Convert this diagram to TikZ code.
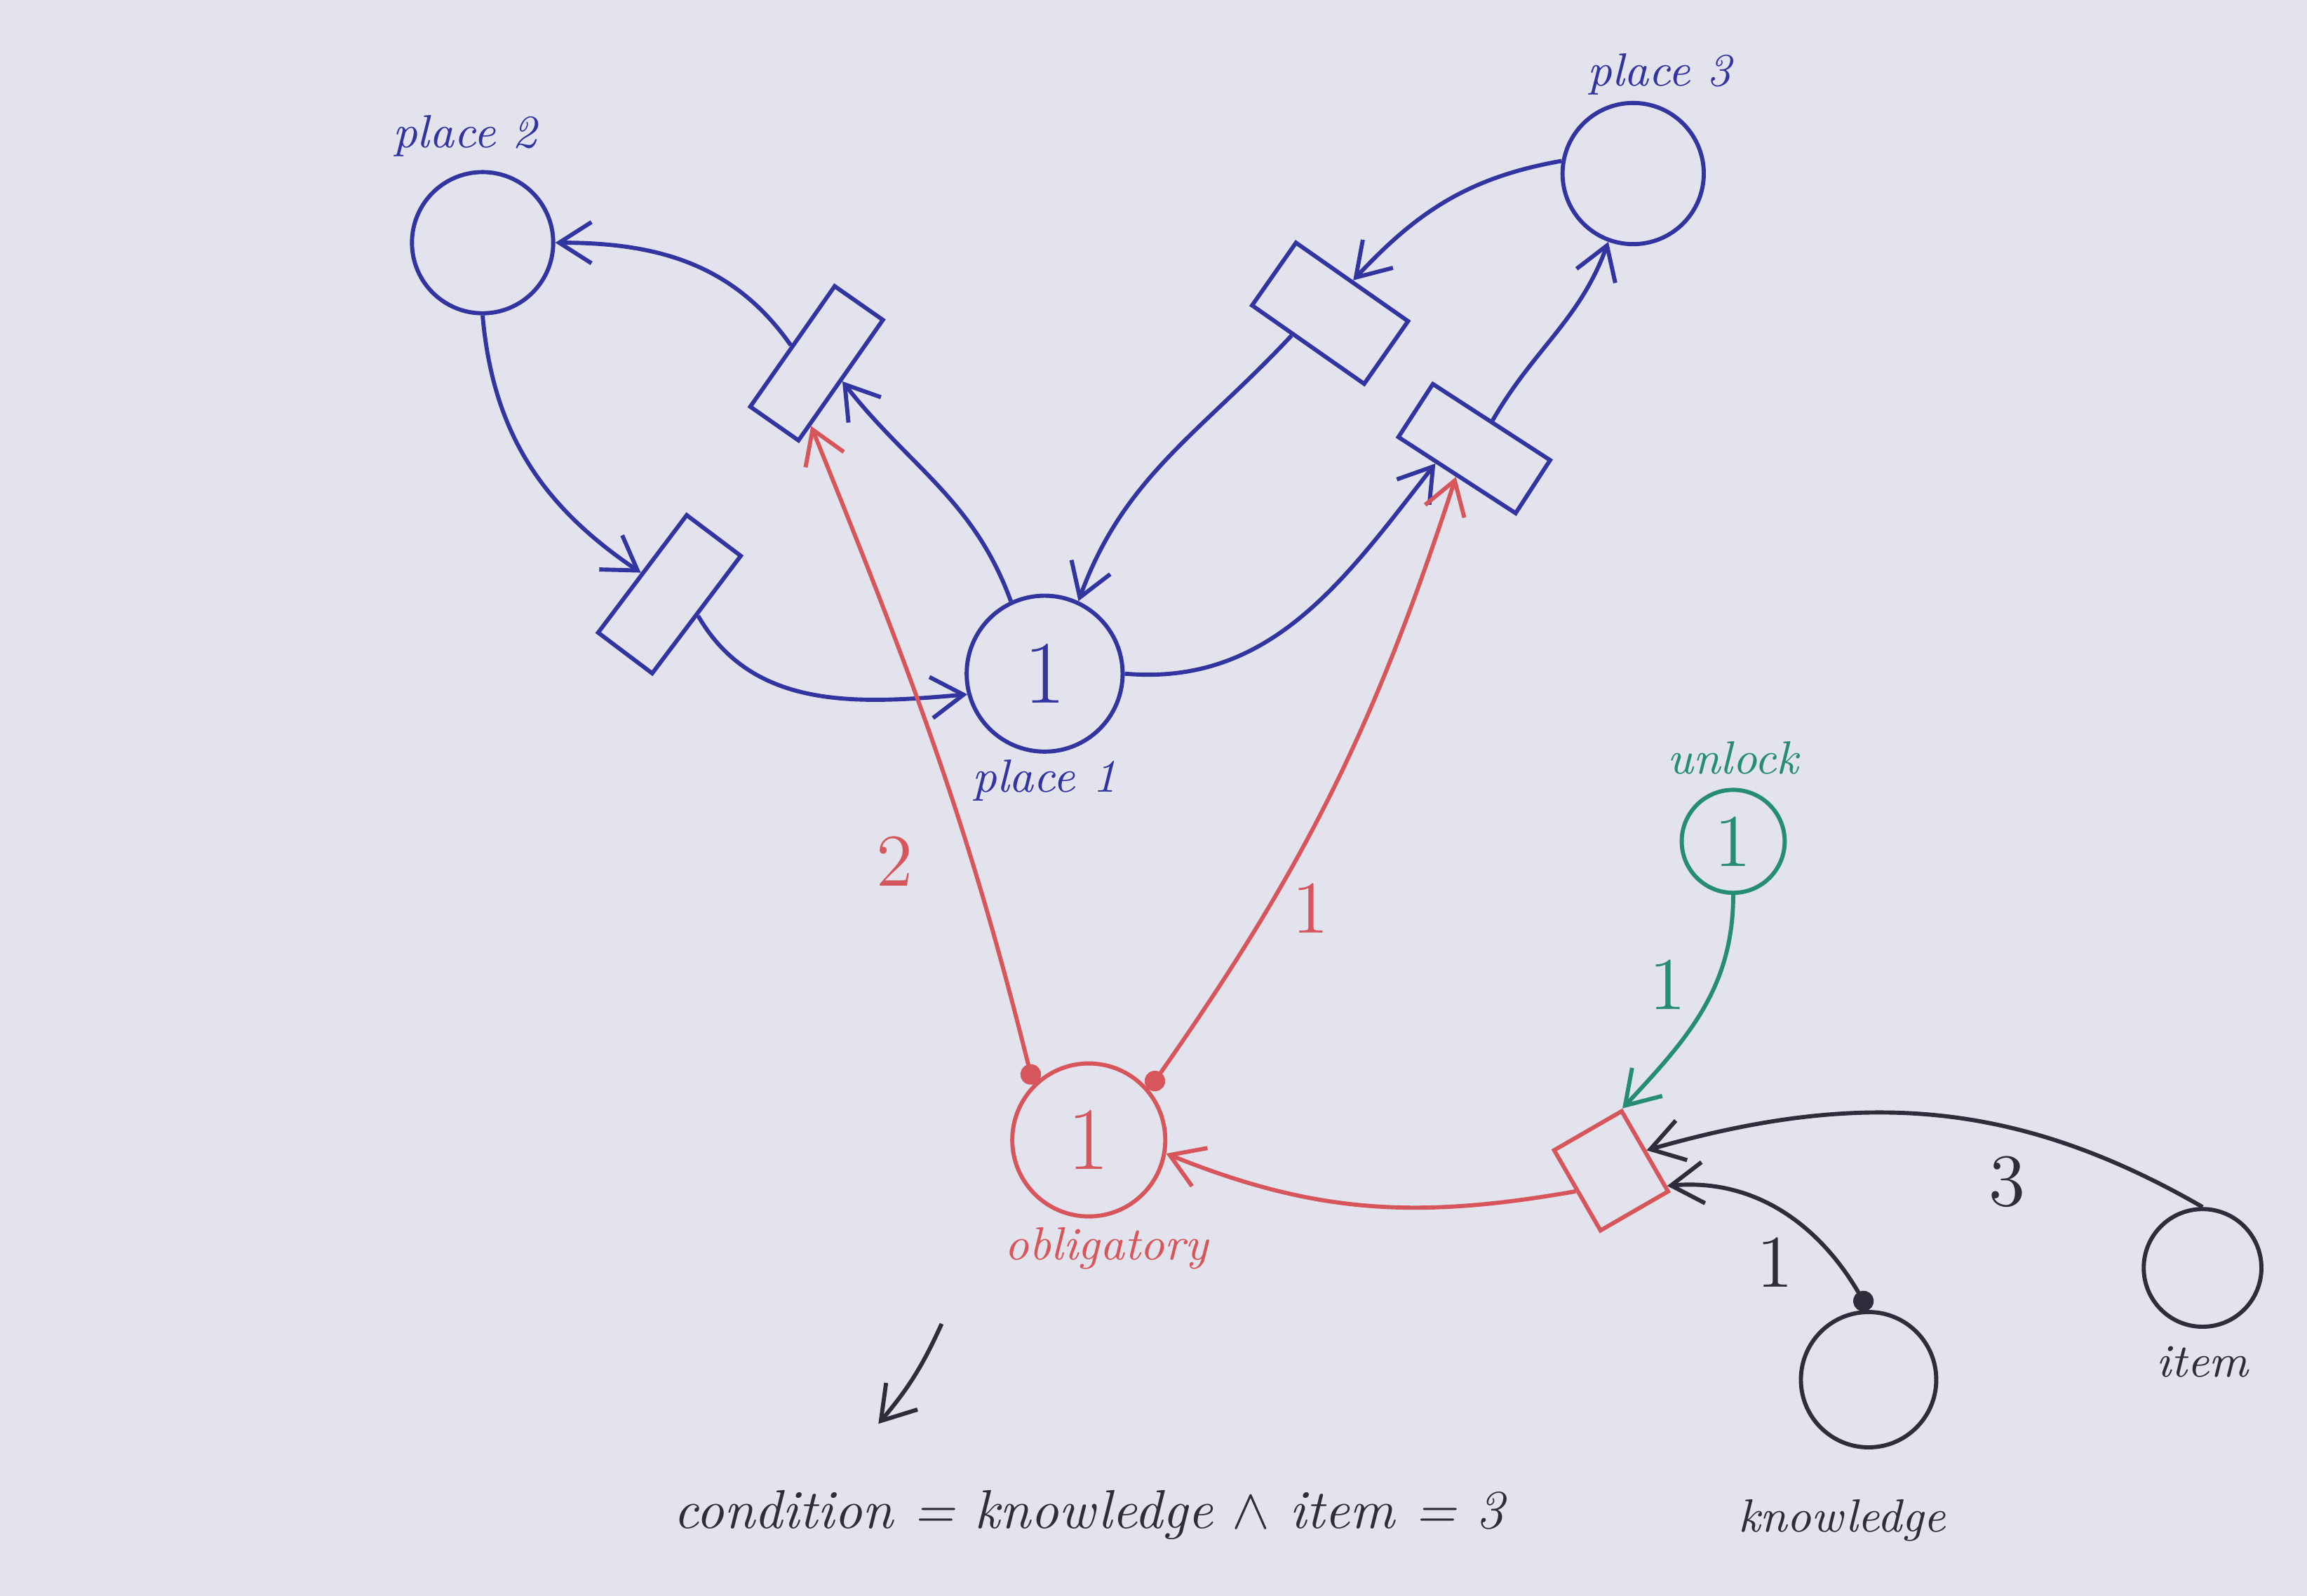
\documentclass[tikz,border=0pt]{standalone}
\usepackage{amsmath, amssymb}
\usepackage{xcolor}
\usepackage{tikz}
\usetikzlibrary{arrows.meta, positioning, calc}
\definecolor{PaperGrey}{RGB}{226,227,236}
\definecolor{InkBlue}  {RGB}{50, 52, 160}
\definecolor{InkRed}   {RGB}{214, 86, 92}
\definecolor{InkGreen} {RGB}{38, 140,115}
\definecolor{InkBlack} {RGB}{45,  45, 60}

\begin{document}
\begin{tikzpicture}[font=\small\itshape,
    place/.style={circle,draw,line width=0.8pt,inner sep=0pt},
    trans/.style={rectangle,draw,line width=0.8pt,inner sep=0pt},
    arc/.style={-{Straight Barb[length=2.2mm,width=2.8mm]},line width=0.8pt},
    dotarc/.style={arc,{Circle[length=1.4mm]}-{Straight Barb[length=2.2mm,width=2.8mm]}},
    lbl/.style={inner sep=1pt},
    wt/.style={font=\Large,inner sep=1pt}]
  \useasboundingbox (0,0) rectangle (15.68,10.85);
  \fill[PaperGrey] (0,0) rectangle (15.68,10.85);
  % places
  \node[place,InkBlue,minimum size=0.96cm] (p2) at (3.28,9.20) {};
  \node[place,InkBlue,minimum size=0.96cm] (p3) at (11.10,9.67) {};
  \node[place,InkBlue,minimum size=1.06cm,font=\LARGE] (p1) at (7.10,6.27) {1};
  \node[place,InkRed,minimum size=1.04cm,font=\LARGE] (oblig) at (7.40,3.10) {1};
  \node[place,InkGreen,minimum size=0.70cm,font=\Large] (unlock) at (11.78,5.13) {1};
  \node[place,InkBlack,minimum size=0.92cm] (know) at (12.70,1.47) {};
  \node[place,InkBlack,minimum size=0.80cm] (item) at (14.97,2.23) {};
  % transitions
  \node[trans,InkBlue,minimum width=1.00cm,minimum height=0.40cm,rotate=55] (ta) at (5.55,8.38) {};
  \node[trans,InkBlue,minimum width=1.00cm,minimum height=0.46cm,rotate=53] (tb) at (4.55,6.81) {};
  \node[trans,InkBlue,minimum width=0.93cm,minimum height=0.52cm,rotate=-35] (tc) at (9.04,8.72) {};
  \node[trans,InkBlue,minimum width=0.95cm,minimum height=0.43cm,rotate=-33] (td) at (10.02,7.80) {};
  \node[trans,InkRed,minimum width=0.63cm,minimum height=0.53cm,rotate=-60] (te) at (10.95,2.89) {};
  % labels
  \node[lbl,InkBlue,above=0.05cm of p2,xshift=-0.12cm] (p2lbl) {place 2};
  \node[lbl,InkBlue,above=0cm of p3,xshift=0.18cm] (p3lbl) {place 3};
  \node[lbl,InkBlue,below=0cm of p1] (p1lbl) {place 1};
  \node[lbl,InkRed,below=0.02cm of oblig,xshift=0.12cm] (obliglbl) {obligatory};
  \node[lbl,InkGreen,above=0.05cm of unlock] (unlocklbl) {unlock};
  \node[lbl,InkBlack,below=0.3cm of know,xshift=-0.18cm] (knowlbl) {knowledge};
  \node[lbl,InkBlack,below=0.08cm of item] (itemlbl) {item};
  \node[InkBlack,font=\fontsize{10.6}{13}\selectfont\itshape] (cond) at (7.40,0.55) {condition = knowledge $\wedge$ item = 3};
  % blue arcs
  \draw[arc,InkBlue] (p2.south) to[out=-85,in=146] (tb.north);
  \draw[arc,InkBlue] (tb.south) to[out=-60,in=185] (p1.195);
  \draw[arc,InkBlue] (ta.north) to[out=125,in=0] (p2.east);
  \draw[arc,InkBlue] (p1.115) to[out=110,in=-52] (ta.south);
  \draw[arc,InkBlue] (p1.east) to[out=-5,in=-128] (td.234);
  \draw[arc,InkBlue] (tc.245) to[out=-133,in=70] (p1.65);
  \draw[arc,InkBlue] (p3.170) to[out=190,in=47] (tc.north);
  \draw[arc,InkBlue] (td.north) to[out=60,in=-110] (p3.250);
  % red arcs
  \draw[dotarc,InkRed] (oblig.135) to[out=104,in=-68] node[wt,pos=0.32,left=0.35cm] (w2) {2} (ta.210);
  \draw[dotarc,InkRed] (oblig.40) to[out=55,in=-108] node[wt,pos=0.30,right=0.12cm] (w1r) {1} (td.south);
  \draw[arc,InkRed] (te.south) to[out=190,in=-22] (oblig.-10);
  % green arc
  \draw[arc,InkGreen] (unlock.south) to[out=-90,in=47] node[wt,pos=0.37,left=0.15cm] (w1g) {1} (te.north west);
  % black arcs
  \draw[arc,InkBlack] (item.north) to[out=150,in=16] node[wt,pos=0.36,below=0.15cm] (w3) {3} (te.north);
  \draw[dotarc,InkBlack] (know.north) to[out=120,in=5] node[wt,pos=0.55,below=0.15cm] (w1k) {1} (te.45);
  % note
  \coordinate (noteA) at (6.40,1.85);
  \coordinate (noteB) at (5.97,1.17);
  \draw[arc,InkBlack] (noteA) to[bend left=8] (noteB);
\end{tikzpicture}
\end{document}
